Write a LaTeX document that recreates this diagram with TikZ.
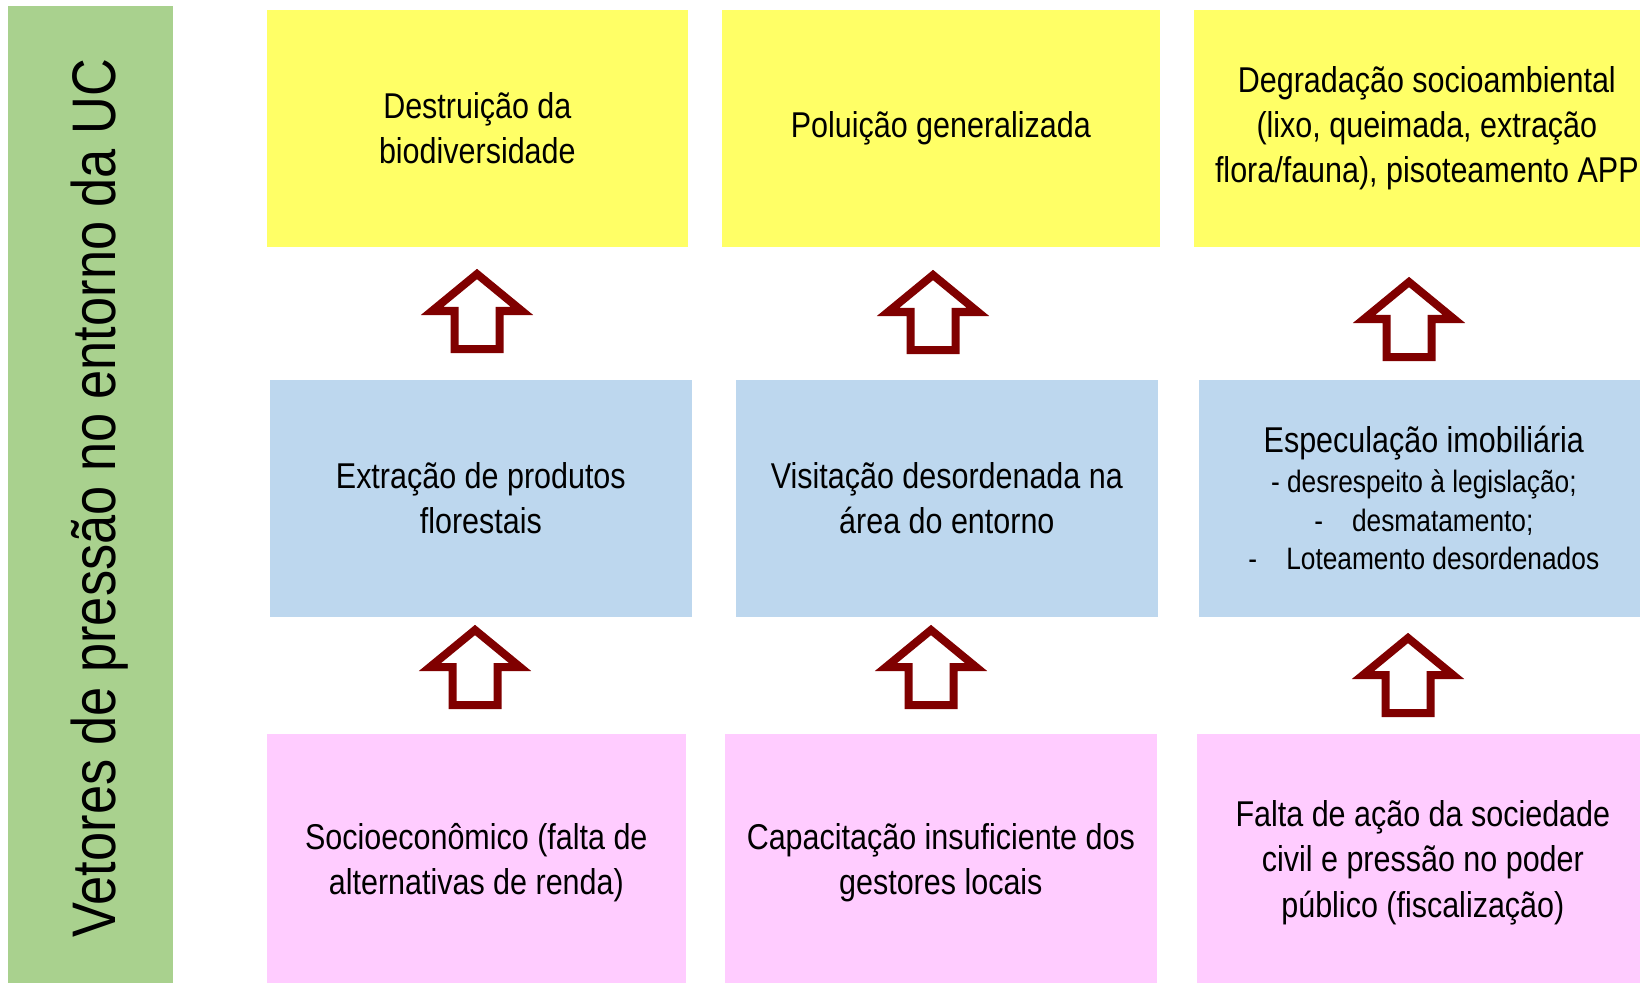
\documentclass[tikz,border=0pt]{standalone}
\usepackage{fontspec}
\setmainfont{Liberation Sans}[FakeStretch=0.85]

\definecolor{ucgreen}{RGB}{169,209,142}
\definecolor{ucyellow}{RGB}{255,255,102}
\definecolor{ucblue}{RGB}{189,215,238}
\definecolor{ucpink}{RGB}{255,204,255}
\definecolor{ucred}{RGB}{128,0,0}

\newcommand{\subfont}{\fontsize{8.8}{10.95}\selectfont}

\begin{document}
\begin{tikzpicture}[x=0.01cm,y=-0.01cm,
    box/.style={rectangle, inner sep=0pt, anchor=north west, align=center,
                minimum height=2.37cm, font=\fontsize{10.2}{12.8}\selectfont},
    pics/uparrow/.style={code={
        \draw[line width=0.08cm, draw=ucred, fill=white, line join=miter]
        (0,0) -- (45,37) -- (22.5,37) -- (22.5,75) -- (-22.5,75)
        -- (-22.5,37) -- (-45,37) -- cycle;}}]

    \useasboundingbox (0,0) rectangle (1640,982);

	% Side bar
    \node[fill=ucgreen, minimum width=1.65cm, minimum height=9.9cm, anchor=north west,
          inner sep=0pt] (bar) at (7,5) {};
    \node[rotate=90, anchor=base, font=\fontsize{17.5}{20}\selectfont] (bartext) at (115,498)
        {Vetores de pressão no entorno da UC};

	% Top row (effects)
    \node[box, fill=ucyellow, minimum width=4.21cm] (y1) at (266,9) {Destruição da\\biodiversidade};
    \node[box, fill=ucyellow, minimum width=4.38cm] (y2) at (721,9) {Poluição generalizada};
    \node[box, fill=ucyellow, minimum width=4.66cm] (y3) at (1193,9)
        {Degradação socioambiental\\(lixo, queimada, extração\\flora/fauna), pisoteamento APP};

	% Middle row (pressures)
    \node[box, fill=ucblue, minimum width=4.22cm] (b1) at (269,379) {Extração de produtos\\florestais};
    \node[box, fill=ucblue, minimum width=4.22cm] (b2) at (735,379) {Visitação desordenada na\\área do entorno};
    \node[box, fill=ucblue, minimum width=4.50cm] (b3) at (1198,379)
        {Especulação imobiliária\\[-0.5mm]\subfont - desrespeito à legislação;\\[-0.6mm]
         \subfont -\hspace{2.9mm}desmatamento;\\[-0.7mm] \subfont -\hspace{2.9mm}Loteamento desordenados};

	% Bottom row (causes)
    \node[box, fill=ucpink, minimum width=4.19cm, minimum height=2.58cm] (p1) at (266,733)
        {Socioeconômico (falta de\\alternativas de renda)};
    \node[box, fill=ucpink, minimum width=4.32cm, minimum height=2.58cm] (p2) at (724,733)
        {Capacitação insuficiente dos\\gestores locais};
    \node[box, fill=ucpink, minimum width=4.52cm, minimum height=2.58cm] (p3) at (1196,733)
        {Falta de ação da sociedade\\civil e pressão no poder\\público (fiscalização)};

	% Block arrows
    \pic (a1) at (477,274) {uparrow};
    \pic (a2) at (933,275) {uparrow};
    \pic (a3) at (1409,282) {uparrow};
    \pic (a4) at (475,630) {uparrow};
    \pic (a5) at (931,630) {uparrow};
    \pic (a6) at (1408,638) {uparrow};

\end{tikzpicture}
\end{document}
